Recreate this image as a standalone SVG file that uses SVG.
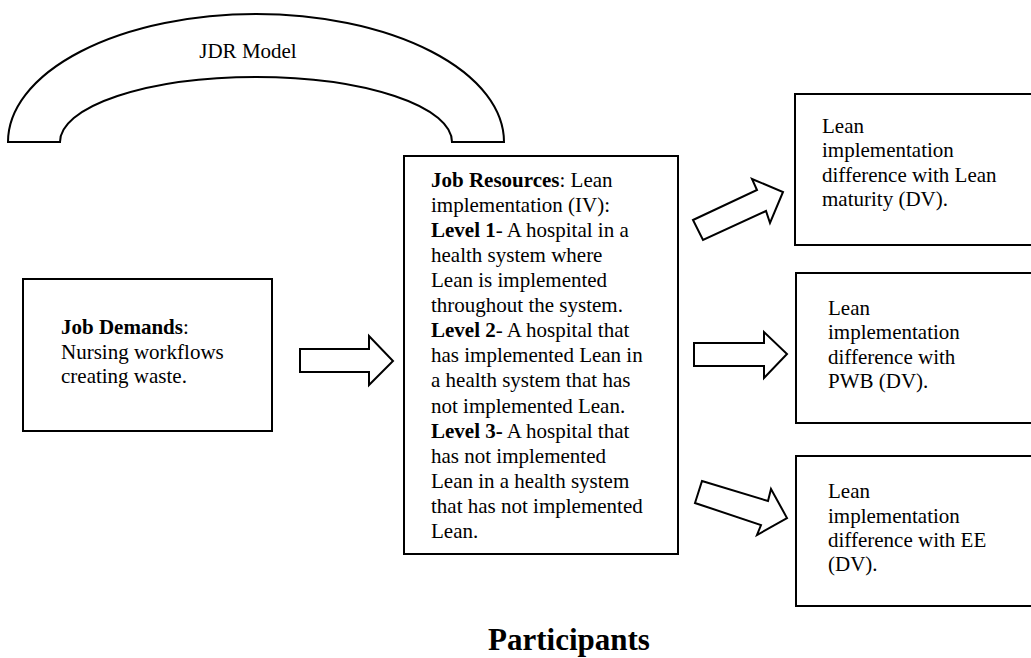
<svg xmlns="http://www.w3.org/2000/svg" width="1031" height="658" viewBox="0 0 1031 658">
<style>
.box{fill:#fff;stroke:#000;stroke-width:2}
.arr{fill:#fff;stroke:#000;stroke-width:2;stroke-linejoin:miter}
text{font-family:"Liberation Serif","Times New Roman",serif;font-size:21px;fill:#000}
.b{font-weight:bold}
</style>
<rect width="1031" height="658" fill="#fff"/>
<g id="jdr-model">
<path class="arr" d="M8,142 A248,128 0 0 1 504,142 L452,142 A196,65 0 0 0 60,142 Z"/>
<text x="248" y="58" text-anchor="middle">JDR Model</text>
</g>
<g id="job-demands">
<rect class="box" x="23" y="279" width="249" height="152"/>
<text x="61" y="334"><tspan class="b">Job Demands</tspan>:</text>
<text x="61" y="358.5">Nursing workflows</text>
<text x="61" y="383">creating waste.</text>
</g>
<g id="job-resources">
<rect class="box" x="404" y="156" width="274" height="398"/>
<text x="431" y="186.6"><tspan class="b">Job Resources</tspan>: Lean</text>
<text x="431" y="211.7">implementation (IV):</text>
<text x="431" y="236.8"><tspan class="b">Level 1</tspan>- A hospital in a</text>
<text x="431" y="261.9">health system where</text>
<text x="431" y="287">Lean is implemented</text>
<text x="431" y="312.1">throughout the system.</text>
<text x="431" y="337.2"><tspan class="b">Level 2</tspan>- A hospital that</text>
<text x="431" y="362.3">has implemented Lean in</text>
<text x="431" y="387.4">a health system that has</text>
<text x="431" y="412.5">not implemented Lean.</text>
<text x="431" y="437.6"><tspan class="b">Level 3-</tspan> A hospital that</text>
<text x="431" y="462.7">has not implemented</text>
<text x="431" y="487.8">Lean in a health system</text>
<text x="431" y="512.9">that has not implemented</text>
<text x="431" y="538">Lean.</text>
</g>
<g id="dv-lean-maturity">
<rect class="box" x="795" y="94" width="250" height="151"/>
<text x="822" y="133">Lean</text>
<text x="822" y="157">implementation</text>
<text x="822" y="181.5">difference with Lean</text>
<text x="822" y="205.5">maturity (DV).</text>
</g>
<g id="dv-pwb">
<rect class="box" x="796" y="273" width="250" height="150"/>
<text x="828" y="315">Lean</text>
<text x="828" y="339">implementation</text>
<text x="828" y="363.5">difference with</text>
<text x="828" y="388">PWB (DV).</text>
</g>
<g id="dv-ee">
<rect class="box" x="796" y="456" width="250" height="150"/>
<text x="828" y="498">Lean</text>
<text x="828" y="522.5">implementation</text>
<text x="828" y="547">difference with EE</text>
<text x="828" y="571">(DV).</text>
</g>
<g id="connectors">
<polygon class="arr" points="300,349 369,349 369,336 393,361 369,385 369,372 300,372"/>
<polygon class="arr" points="694,343 764,343 764,332 787,354 764,378 764,366 694,366"/>
<polygon class="arr" points="693,220 757,190 752,179 783,192 770,223 766,211 703,240"/>
<polygon class="arr" points="702,481 768,501 771,489 787,518 757,535 761,525 695,503"/>
</g>
<g id="participants">
<text x="569" y="650" text-anchor="middle" class="b" style="font-size:31px">Participants</text>
</g>
</svg>
